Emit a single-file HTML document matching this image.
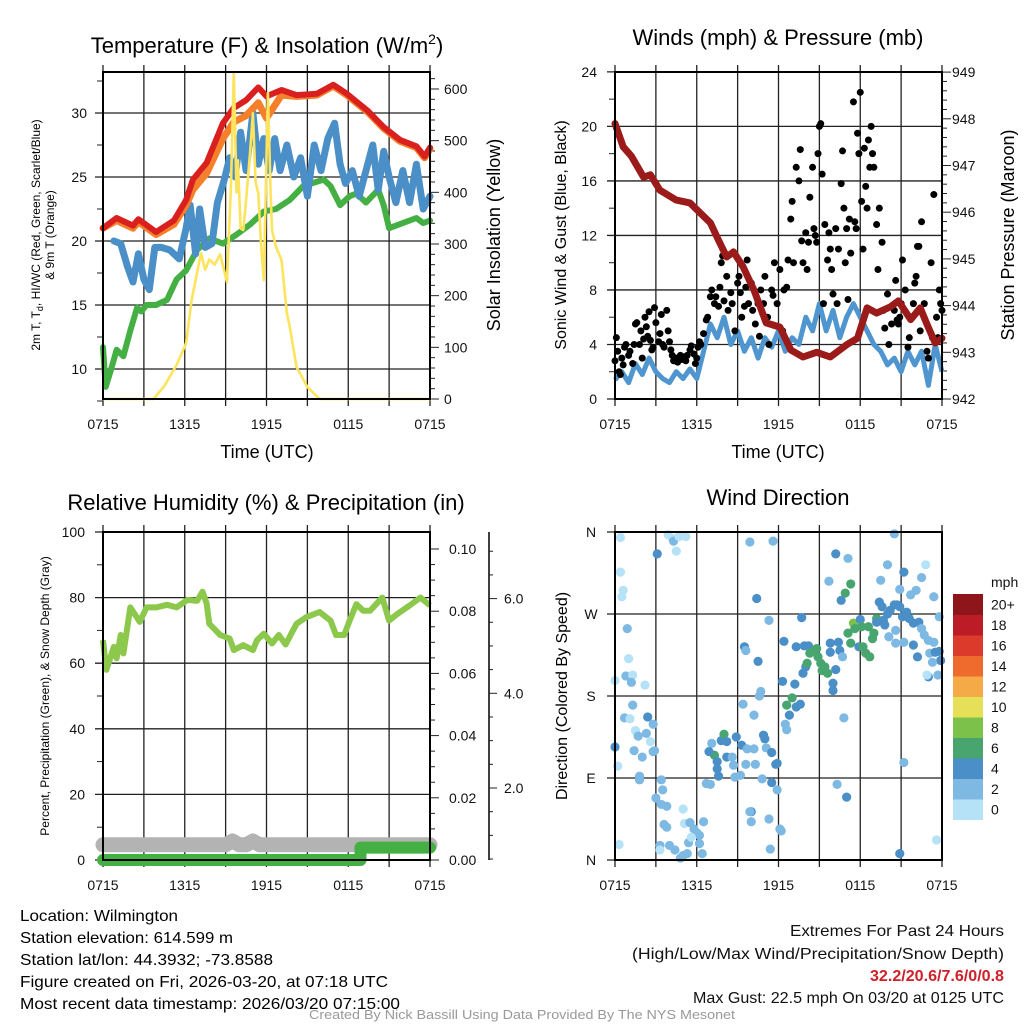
<!DOCTYPE html>
<html><head><meta charset="utf-8"><title>Station Meteogram</title>
<style>
html,body{margin:0;padding:0;background:#fff;}
svg{display:block;font-family:"Liberation Sans",Arial,sans-serif;}
.tk{font-size:14px;fill:#111;}
.nar{font-family:"Liberation Sans Narrow","Liberation Sans",sans-serif;}
</style></head>
<body>
<svg id="chart" width="1024" height="1024" viewBox="0 0 1024 1024" xmlns="http://www.w3.org/2000/svg"></svg>
<script>
// ===== Temperature panel data (hours after 0715 UTC) =====
const tempHours = [0,1.0,2.2,2.6,3.9,5.2,6.1,6.6,7.6,8.8,9.6,10.5,11.4,12.0,13.1,14.2,15.7,16.9,17.9,19.4,20.6,21.8,23.0,23.6,24];
const temp2m = [21.0,21.8,21.2,21.7,20.7,21.6,23.2,24.8,26.1,29.2,30.4,31.0,32.0,31.3,31.8,31.4,31.5,32.2,31.5,30.2,28.9,27.9,27.4,26.6,27.3];
const temp9m = [21.0,21.6,21.0,21.5,20.5,21.3,22.8,24.0,25.3,28.0,29.3,29.8,30.8,29.6,31.4,31.3,31.4,32.1,31.4,30.1,28.8,27.8,27.3,26.5,27.2];
const chillHours = [0.8,1.3,1.8,2.2,2.6,3.0,3.4,3.8,4.3,4.9,5.6,6.1,6.4,6.8,7.1,7.5,8.0,8.4,8.9,9.3,9.7,10.1,10.5,11.0,11.4,11.8,12.2,12.6,13.0,13.5,14.0,14.5,15.0,15.5,16.0,16.5,17.0,17.4,17.8,18.3,18.8,19.3,19.8,20.2,20.6,21.0,21.5,22.0,22.5,23.0,23.5,24];
const windChill = [20,19.8,18,16.8,19,17,16.2,19.5,19.5,19.3,18.6,21,22.8,19,22.5,19.5,19.8,23,24.8,26.5,25,28.5,25.5,30,26,28,25.5,28,25.5,27.5,25,26.5,23.5,27.5,25.5,28,29.2,26,24.5,25.5,23.5,25.5,27.5,24,27,25,23,25.5,23,26,22.5,23.5];
const dewHours = [0,0.2,0.6,1.0,1.5,2.0,2.5,2.8,3.2,3.9,4.7,5.4,6.1,6.9,7.8,8.8,9.8,10.8,11.8,12.7,13.7,14.7,16.2,16.7,17.4,18.1,18.6,19.3,20.2,20.6,21.0,22.0,23.0,23.5,24];
const dewPoint = [11.7,8.6,10,11.5,11.0,13,14.8,14.5,15,15,15.4,17,17.7,19.3,20.2,19.8,20.5,21.3,22.3,22.5,23.2,24.3,24.8,24.3,22.8,23.5,23.7,23.0,24.0,22.8,21.0,21.4,21.8,21.4,21.6];
const solarHours = [0,3.7,4.5,5.4,6.1,6.5,6.9,7.2,7.5,7.8,8.2,8.6,9.1,9.4,9.6,9.8,9.9,10.1,10.3,10.5,10.8,11.0,11.2,11.4,11.6,11.8,12.1,12.3,12.4,12.7,13.1,13.5,13.7,14.2,15.0,15.9,24];
const solarRad = [0,0,25,66,108,191,244,282,250,270,260,280,226,420,633,400,462,330,327,385,480,553,420,398,300,230,592,400,327,294,269,166,140,62,23,0,0];
const tempTicks = [10,15,20,25,30];
const solarTicks = [0,100,200,300,400,500,600];
const timeLabels = ["0715","1315","1915","0115","0715"];

// ===== Winds panel data =====
const windHours = [0,0.5,1,1.5,2,2.5,3,3.5,4,4.5,5,5.5,6,6.5,7,7.5,8,8.5,9,9.5,10,10.5,11,11.5,12,12.5,13,13.5,14,14.5,15,15.5,16,16.5,17,17.5,18,18.5,19,19.5,20,20.5,21,21.5,22,22.5,23,23.5,24];
const windSpeed = [1.4,2.0,1.2,2.6,1.8,3.0,2.0,1.5,1.2,2.0,1.5,2.2,1.5,3.5,5.5,4.5,6.0,4.0,5.0,3.5,4.5,3.0,4.5,3.8,5.0,3.5,4.5,4.0,6.0,5.0,7.0,5.0,6.5,4.5,6.0,7.0,6.0,5.0,4.0,3.5,2.5,3.0,2.0,3.5,2.5,3.5,1.0,4.0,2.0];
const gustHours = [0.0,0.1,0.2,0.3,0.4,0.5,0.6,0.7,0.8,1.0,1.1,1.3,1.4,1.5,1.6,1.8,1.9,2.0,2.1,2.2,2.3,2.4,2.5,2.6,2.7,2.8,2.9,3.0,3.2,3.3,3.4,3.5,3.6,3.8,3.9,4.0,4.1,4.2,4.3,4.4,4.5,4.6,4.7,4.8,4.9,5.0,5.2,5.3,5.5,5.6,5.8,5.9,6.0,6.1,6.2,6.3,6.5,6.7,6.8,7.0,7.1,7.3,7.4,7.6,7.7,7.8,7.9,8.0,8.2,8.3,8.5,8.6,8.8,9.0,9.1,9.2,9.3,9.5,9.6,9.7,9.8,10.0,10.1,10.3,10.5,10.6,10.7,10.9,11.0,11.2,11.3,11.5,11.6,11.7,11.9,12.1,12.3,12.4,12.6,12.7,12.9,13.0,13.1,13.3,13.5,13.6,13.7,13.8,14.0,14.1,14.2,14.3,14.5,14.6,14.7,14.8,14.9,15.0,15.1,15.2,15.3,15.4,15.6,15.7,15.8,15.9,16.0,16.2,16.3,16.4,16.6,16.7,16.8,16.9,17.0,17.1,17.2,17.3,17.5,17.6,17.7,17.8,17.9,18.0,18.1,18.2,18.3,18.4,18.5,18.6,18.7,18.8,18.9,19.0,19.2,19.3,19.4,19.6,19.7,19.8,20.0,20.1,20.3,20.5,20.6,20.7,20.8,20.9,21.0,21.1,21.3,21.5,21.6,21.8,21.9,22.0,22.1,22.2,22.3,22.4,22.5,22.7,22.9,23.0,23.2,23.3,23.4,23.6,23.7,23.8,23.9,24.0];
const gustSpeed = [2.8,4.5,3.5,2.0,1.8,3.0,2.5,3.8,4.0,3.2,3.5,2.6,4.0,5.5,5.6,4.0,5.0,3.0,4.4,6.0,5.3,4.6,6.4,4.3,3.6,3.8,6.7,5.6,4.2,4.8,6.2,4.0,3.8,6.5,5.0,4.2,3.6,3.2,2.8,3.0,3.0,2.7,3.0,3.2,2.9,3.1,2.8,3.2,3.6,3.9,3.3,2.6,3.0,3.8,4.2,4.0,4.8,5.8,6.0,7.5,8.0,7.0,7.5,6.8,8.2,10.0,10.5,7.2,9.0,6.5,7.8,7.0,5.0,8.5,9.0,7.8,6.0,6.8,8.2,10.2,7.0,8.5,6.5,5.5,7.0,4.6,8.0,7.0,9.0,6.0,4.0,8.0,7.6,10.0,7.0,9.5,5.0,8.0,8.2,10.2,13.2,14.5,10.0,17.0,16.0,18.3,11.6,10.0,12.2,9.5,11.5,14.8,17.0,12.5,12.0,11.5,18.0,20.0,20.2,16.5,7.0,12.8,10.2,12.2,11.0,9.5,7.7,12.5,7.0,11.0,15.8,18.2,14.0,10.0,12.5,7.3,13.2,10.7,21.8,13.0,12.5,19.5,18.0,22.5,14.5,11.0,18.4,15.6,14.0,19.0,17.0,20.0,18.0,17.0,12.8,9.5,14.0,11.5,6.5,5.2,7.7,4.0,5.5,6.5,8.7,5.8,5.5,6.0,7.0,10.2,8.0,3.8,4.5,6.0,7.0,8.5,9.0,11.2,11.2,5.0,13.0,7.0,3.5,3.0,10.0,4.5,15.0,6.0,4.5,8.0,7.0,6.5];
const presHours = [0,0.6,1.2,2.1,2.6,3.3,4.5,5.5,7.0,7.6,8.2,8.7,9.4,10.2,11.1,12.1,12.9,13.8,14.8,15.8,17.0,17.8,18.5,19.2,20.2,20.8,21.7,22.4,22.9,23.5,24];
const pressure = [947.9,947.4,947.2,946.75,946.8,946.47,946.26,946.2,945.77,945.4,945.04,945.15,944.83,944.33,943.63,943.54,943.05,942.9,943.0,942.9,943.16,943.3,943.95,943.84,943.97,944.1,943.7,943.95,943.6,943.2,943.3];
const windTicks = [0,4,8,12,16,20,24];
const presTicks = [942,943,944,945,946,947,948,949];

// ===== RH / precipitation panel data =====
const rhHours = [0,0.25,0.8,1.0,1.3,1.5,2.0,2.7,3.2,3.9,4.7,5.4,6.2,6.9,7.3,7.6,7.8,8.6,9.3,9.6,10.3,11.0,11.3,11.8,12.4,12.9,13.4,14.2,14.9,15.9,16.7,17.1,17.7,18.1,18.6,19.1,19.6,20.5,21.0,21.6,22.5,23.3,24];
const rhValues = [67,58,65,61.5,68.6,63,77,72.6,77,77,77.8,77,79.3,79,81.8,78.3,72,68.6,67.5,64,65.5,64,67,69,66,68.6,65.7,72,74,75.6,73,68.6,68.6,73,78,76,76,80,73,75,77.6,80,77.6];
const precipHours = [0,18.9,18.9,24];
const precipValues = [0,0,0.004,0.004];
const snowHours = [0,9,9.5,10,10.5,11,11.5,12,24];
const snowDepth = [0.8,0.8,0.88,0.8,0.8,0.88,0.8,0.8,0.8];
const rhTicks = [0,20,40,60,80,100];
const precipTicks = ["0.00","0.02","0.04","0.06","0.08","0.10"];
const snowTicks = ["2.0","4.0","6.0"];

// ===== Wind direction data =====
const dirHours = [0.4,0.4,0.6,0.5,0.9,1.0,0.8,1.3,1.2,0.0,2.2,1.3,0.7,1.1,2.4,2.8,1.5,2.3,1.7,2.6,1.4,2.0,2.8,2.9,0.0,0.2,1.8,1.8,0.3,3.1,3.9,4.2,4.3,4.5,4.7,5.2,3.4,3.5,3.0,3.4,3.8,3.6,3.8,3.3,3.3,4.0,4.4,4.8,5.0,5.3,5.0,5.1,5.5,5.4,5.8,6.0,6.2,6.5,6.2,6.4,5.6,6.7,7.0,7.1,7.3,7.5,7.5,7.6,6.9,7.8,8.0,8.2,8.2,8.6,8.7,8.8,8.9,9.3,9.2,9.7,10.2,10.3,9.6,10.9,11.0,11.1,10.8,11.5,11.8,11.9,11.5,11.9,9.4,10.2,10.7,10.6,10.0,9.9,10.0,11.3,11.4,12.1,12.2,9.9,11.6,10.4,11.3,9.5,9.6,10.5,12.4,12.3,13.2,13.7,12.6,13.0,12.8,13.3,13.6,12.5,12.6,13.3,13.9,14.2,14.0,13.8,14.1,14.3,14.6,14.8,14.9,15.1,15.2,15.4,15.6,15.8,15.8,16.2,16.0,16.0,15.7,16.2,17.1,17.3,16.9,16.6,16.4,16.5,16.7,17.1,17.3,17.5,17.6,18.0,17.9,18.1,18.2,18.4,18.6,18.7,18.9,19.0,19.2,19.2,19.4,19.6,19.7,19.8,20.0,20.2,20.5,20.6,20.7,20.9,21.1,19.5,20.0,20.5,20.9,21.2,21.4,21.6,21.9,22.3,22.5,22.7,23.0,23.1,23.4,23.5,23.8,23.9,22.2,23.3,23.0,22.9,23.7,23.8,23.4,22.8,22.5,22.1,21.7,20.6,21.2,20.1,21.9,21.2,20.9,23.6,16.3,17.0,16.8];
const dirDegrees = [354,316,296,289,254,221,202,203,195,197,192,170,156,155,157,149,142,139,136,130,120,113,119,120,124,103,92,88,17,336,357,353,350,339,355,355,88,77,68,61,59,39,36,16,11,16,11,2,5,7,56,40,41,19,34,30,27,42,18,7,25,84,83,128,115,108,100,92,119,131,138,130,113,113,104,91,135,126,93,122,122,105,105,137,133,123,89,118,105,106,85,77,171,159,185,180,53,53,42,45,12,34,32,349,350,287,263,234,230,218,240,196,193,266,170,178,159,168,171,149,143,234,235,235,212,205,216,227,230,232,223,216,208,212,205,228,238,209,194,186,306,336,331,303,293,285,239,230,223,249,238,260,254,264,234,256,234,227,256,223,243,249,265,261,283,278,263,258,270,274,280,252,280,278,267,307,324,358,297,316,272,265,260,261,254,247,241,227,239,228,229,219,223,217,201,203,203,267,289,324,310,296,291,238,239,245,236,107,7,22,83,69,156];
const dirSpeeds = [1,1,1,1,3,1,3,1,3,1,1,3,3,1,5,3,1,3,3,1,3,3,3,3,5,1,3,3,1,5,1,1,3,1,1,1,3,3,3,3,3,3,3,3,1,3,3,3,3,3,1,1,3,3,3,3,3,3,3,3,1,3,3,3,7,5,5,5,5,5,7,5,5,3,3,3,5,5,3,3,3,3,3,5,5,3,3,5,5,5,5,3,3,3,3,3,5,3,3,3,3,3,3,3,3,5,3,5,3,5,5,5,5,5,7,7,5,5,5,3,3,5,5,5,5,5,7,7,7,7,7,7,7,7,7,5,5,5,5,5,3,5,3,7,7,5,5,5,3,7,7,9,7,5,5,7,7,7,7,7,7,7,7,5,5,5,5,5,5,5,5,3,5,5,5,3,3,3,3,5,5,5,5,5,3,3,3,3,3,5,5,5,5,3,5,1,3,3,3,1,3,3,3,3,3,3,5,3,5,1,3,5,3];
const dirLabels = ["N","E","S","W","N"];
const speedBins = ["0","2","4","6","8","10","12","14","16","18","20+"];
const binColors = ["#b5e2f6","#7db9e3","#4a8fc7","#48a56f","#7cc24a","#e6e058","#f4aa47","#ee6a2d","#dc3a2a","#bb1c25","#8e1519"];

// ===== rendering =====
const NS = "http://www.w3.org/2000/svg";
const svg = document.getElementById("chart");
function mk(tag, attrs, parent) {
  const e = document.createElementNS(NS, tag);
  for (const k in attrs) e.setAttribute(k, attrs[k]);
  (parent || svg).appendChild(e);
  return e;
}
function txt(str, attrs, parent) { const e = mk("text", attrs, parent); e.textContent = str; return e; }
const PW = 327, HRS = 24;
function xAt(x0, t) { return x0 + t * PW / HRS; }
function pathFrom(xs, ys) { return xs.map((x, i) => (i ? "L" : "M") + x.toFixed(1) + " " + ys[i].toFixed(1)).join(""); }

function frame(x0, y0, y1, name, hGridYs) {
  const g = mk("g", {});
  
  
  for (let i = 0; i <= 8; i++) {
    const x = x0 + i * PW / 8;
    mk("line", {x1: x, y1: y0 - 7, x2: x, y2: y1 + 7, stroke: "#222", "stroke-width": 1.3}, g);
  }
  hGridYs.forEach(y => mk("line", {x1: x0 - 8, y1: y, x2: x0 + PW, y2: y, stroke: "#222", "stroke-width": 1.3}, g));
  const xl = mk("g", {});
  
  
  timeLabels.forEach((s, i) => txt(s, {x: x0 + i * PW / 4, y: y1 + 30, "text-anchor": "middle", class: "tk"}, xl));
}
function box(x0, y0, y1, name) {
  const r = mk("rect", {x: x0, y: y0, width: PW, height: y1 - y0, fill: "none", stroke: "#000", "stroke-width": 2});
  
  
}

// ---------- Panel 1 ----------
{
  const x0 = 103, y0 = 72, y1 = 399;
  const yT = v => 369 - (v - 10) * 12.8;
  const yS = v => 399 - v * 0.5167;
  frame(x0, y0, y1, "temperature", tempTicks.map(yT));
  for (let v = 7.5; v <= 32.5; v += 2.5) mk("line", {x1: x0 - 6, y1: yT(v), x2: x0, y2: yT(v), stroke: "#222"});
  for (let v = 0; v <= 620; v += 20) mk("line", {x1: x0 + PW, y1: yS(v), x2: x0 + PW + (v % 100 ? 5 : 9), y2: yS(v), stroke: "#222"});
  const yl = mk("g", {});  
  tempTicks.forEach(v => txt(String(v), {x: 87, y: yT(v) + 5, "text-anchor": "end", class: "tk"}, yl));
  const sl = mk("g", {});  
  solarTicks.forEach(v => txt(String(v), {x: 444, y: yS(v) + 5, class: "tk"}, sl));
  const series = [
    [dewHours, dewPoint, yT, "#44b043", 6, "dewpoint-line"],
    [chillHours, windChill, yT, "#4a8fc7", 7, "wind-chill-line"],
    [tempHours, temp9m, yT, "#f57f2a", 7, "temp-9m-line"],
    [tempHours, temp2m, yT, "#d9201f", 6, "temp-2m-line"],
    [solarHours, solarRad, yS, "#fde45c", 2.6, "solar-insolation-line"]
  ];
  series.forEach(s => {
    const p = mk("path", {d: pathFrom(s[0].map(t => xAt(x0, t)), s[1].map(s[2])), fill: "none", stroke: s[3], "stroke-width": s[4], "stroke-linejoin": "round", "stroke-linecap": "round"});
    
    
  });
  box(x0, y0, y1, "temperature");
  const t = txt("", {x: 267, y: 53, "text-anchor": "middle", "font-size": 22});
   
  t.innerHTML = 'Temperature (F) &amp; Insolation (W/m<tspan dy="-9" font-size="14">2</tspan><tspan dy="9">)</tspan>';
  const xt = txt("Time (UTC)", {x: 267, y: 458, "text-anchor": "middle", "font-size": 18});
   
  const lt = mk("text", {transform: "translate(40,235) rotate(-90)", "text-anchor": "middle", "font-size": 12});
   
  lt.innerHTML = '<tspan x="0" y="0">2m T, T<tspan font-size="9" dy="3">d</tspan><tspan dy="-3">, HI/WC (Red, Green, Scarlet/Blue)</tspan></tspan><tspan x="0" y="14">&amp; 9m T (Orange)</tspan>';
  const rt = txt("Solar Insolation (Yellow)", {transform: "translate(500,235) rotate(-90)", "text-anchor": "middle", "font-size": 18});
   
}

// ---------- Panel 2 ----------
{
  const x0 = 615, y0 = 72, y1 = 399;
  const yW = v => 399 - v * 13.63;
  const yP = p => 399 - (p - 942) * 46.7;
  frame(x0, y0, y1, "winds", windTicks.map(yW));
  for (let v = 2; v <= 22; v += 4) mk("line", {x1: x0 - 6, y1: yW(v), x2: x0, y2: yW(v), stroke: "#222"});
  for (let p = 942; p <= 949.01; p += 0.2) mk("line", {x1: x0 + PW, y1: yP(p), x2: x0 + PW + (Math.abs(p - Math.round(p)) < 0.01 ? 9 : 5), y2: yP(p), stroke: "#222"});
  const yl = mk("g", {});  
  windTicks.forEach(v => txt(String(v), {x: 597, y: yW(v) + 5, "text-anchor": "end", class: "tk"}, yl));
  const pl = mk("g", {});  
  presTicks.forEach(v => txt(String(v), {x: 952, y: yP(v) + 5, class: "tk"}, pl));
  const wl = mk("path", {d: pathFrom(windHours.map(t => xAt(x0, t)), windSpeed.map(yW)), fill: "none", stroke: "#4f95cf", "stroke-width": 5, "stroke-linejoin": "round"});
   
  const gg = mk("g", {});  
  gustHours.forEach((t, i) => {
    const c = mk("circle", {cx: xAt(x0, t), cy: yW(gustSpeed[i]), r: 3.5, fill: "#000"}, gg);
    
    
  });
  const pr = mk("path", {d: pathFrom(presHours.map(t => xAt(x0, t)), pressure.map(yP)), fill: "none", stroke: "#9b1b1b", "stroke-width": 7, "stroke-linejoin": "round", "stroke-linecap": "round"});
   
  box(x0, y0, y1, "winds");
  const t = txt("Winds (mph) & Pressure (mb)", {x: 778, y: 45, "text-anchor": "middle", "font-size": 22});
   
  const xt = txt("Time (UTC)", {x: 778, y: 458, "text-anchor": "middle", "font-size": 18});
   
  const lt = txt("Sonic Wind & Gust (Blue, Black)", {transform: "translate(566,235) rotate(-90)", "text-anchor": "middle", "font-size": 16});
   
  const rt = txt("Station Pressure (Maroon)", {transform: "translate(1014,235) rotate(-90)", "text-anchor": "middle", "font-size": 18});
   
}

// ---------- Panel 3 ----------
{
  const x0 = 103, y0 = 532, y1 = 860;
  const yR = v => 860 - v * 3.28;
  const yPr = v => 860 - v * 3110;
  const ySn = v => 882.7 - v * 47.35;
  frame(x0, y0, y1, "humidity", rhTicks.map(yR));
  for (let v = 10; v <= 90; v += 20) mk("line", {x1: x0 - 6, y1: yR(v), x2: x0, y2: yR(v), stroke: "#222"});
  for (let v = 0; v <= 0.1001; v += 0.005) mk("line", {x1: x0 + PW, y1: yPr(v), x2: x0 + PW + (Math.round(v * 1000) % 20 ? 5 : 9), y2: yPr(v), stroke: "#222"});
  const yl = mk("g", {});  
  rhTicks.forEach(v => txt(String(v), {x: 85, y: yR(v) + 5, "text-anchor": "end", class: "tk"}, yl));
  const pl = mk("g", {});  
  precipTicks.forEach(v => txt(v, {x: 449, y: yPr(parseFloat(v)) + 5, class: "tk"}, pl));
  const sa = mk("line", {x1: 489, y1: 532, x2: 489, y2: 860, stroke: "#000", "stroke-width": 1.5});
   
  for (let v = 0.5; v <= 7.01; v += 0.5) { const y = ySn(v); if (y >= 532 && y <= 860) mk("line", {x1: 489, y1: y, x2: 489 + (v % 2 ? 4 : 8), y2: y, stroke: "#222"}); }
  const sl = mk("g", {});  
  snowTicks.forEach(v => txt(v, {x: 504, y: ySn(parseFloat(v)) + 5, class: "tk"}, sl));
  const rh = mk("path", {d: pathFrom(rhHours.map(t => xAt(x0, t)), rhValues.map(yR)), fill: "none", stroke: "#8cc84b", "stroke-width": 6, "stroke-linejoin": "round"});
   
  const sn = mk("path", {d: pathFrom(snowHours.map(t => xAt(x0, t)), snowDepth.map(ySn)), fill: "none", stroke: "#b3b3b3", "stroke-width": 15, "stroke-linejoin": "round", "stroke-linecap": "round"});
   
  const pc = mk("path", {d: pathFrom(precipHours.map(t => xAt(x0, t)), precipValues.map(yPr)), fill: "none", stroke: "#44b043", "stroke-width": 12, "stroke-linejoin": "round", "stroke-linecap": "round"});
   
  box(x0, y0, y1, "humidity");
  const t = txt("Relative Humidity (%) & Precipitation (in)", {x: 266, y: 510, "text-anchor": "middle", "font-size": 22});
   
  const lt = txt("Percent, Precipitation (Green), & Snow Depth (Gray)", {transform: "translate(49,696) rotate(-90)", "text-anchor": "middle", "font-size": 12});
   
}

// ---------- Panel 4 ----------
{
  const x0 = 615, y0 = 532, y1 = 860;
  const yD = d => 860 - d * 0.9111;
  frame(x0, y0, y1, "direction", [0, 90, 180, 270, 360].map(yD));
  const yl = mk("g", {});  
  dirLabels.forEach((s, i) => txt(s, {x: 591, y: yD(i * 90) + 5, "text-anchor": "middle", class: "tk"}, yl));
  const colorOf = s => binColors[Math.min(10, Math.floor(s / 2))];
  const dg = mk("g", {});  
  dirHours.forEach((t, i) => {
    const c = mk("circle", {cx: xAt(x0, t), cy: yD(dirDegrees[i]), r: 4.6, fill: colorOf(dirSpeeds[i])}, dg);
    
    
  });
  box(x0, y0, y1, "direction");
  const t = txt("Wind Direction", {x: 778, y: 505, "text-anchor": "middle", "font-size": 22});
   
  const lt = txt("Direction (Colored By Speed)", {transform: "translate(567,696) rotate(-90)", "text-anchor": "middle", "font-size": 16});
   
  const cb = mk("g", {});  
  const bh = 20.5, top = 594;
  speedBins.forEach((lab, i) => {
    const y = top + (10 - i) * bh;
    const r = mk("rect", {x: 953, y: y, width: 30, height: bh + 0.5, fill: binColors[i]}, cb);
    
    
    txt(lab, {x: 991, y: y + bh / 2 + 5, class: "tk"}, cb);
  });
  txt("mph", {x: 991, y: 587, class: "tk"}, cb);
}

// ---------- Footer text ----------
{
  const info = [["Location: Wilmington",921,158],["Station elevation: 614.599 m",943,213],["Station lat/lon: 44.3932; -73.8588",965,253],["Figure created on Fri, 2026-03-20, at 07:18 UTC",987,368],["Most recent data timestamp: 2026/03/20 07:15:00",1009,380]];
  const g = mk("g", {});  
  info.forEach(a => txt(a[0], {x: 20, y: a[1], "font-size": 16, class: "nar", textLength: a[2], lengthAdjust: "spacingAndGlyphs"}, g));
  const ex = [["Extremes For Past 24 Hours",936,214,"#111","normal"],["(High/Low/Max Wind/Precipitation/Snow Depth)",959,372,"#111","normal"],["32.2/20.6/7.6/0/0.8",981,134,"#d0202a","bold"],["Max Gust: 22.5 mph On 03/20 at 0125 UTC",1003,311,"#111","normal"]];
  const g2 = mk("g", {});  
  ex.forEach(a => txt(a[0], {x: 1004 - a[2], y: a[1], "font-size": 16, class: "nar", fill: a[3], "font-weight": a[4], textLength: a[2], lengthAdjust: "spacingAndGlyphs"}, g2));
  const cr = txt("Created By Nick Bassill Using Data Provided By The NYS Mesonet", {x: 309, y: 1019, "font-size": 13, class: "nar", fill: "#999", textLength: 426, lengthAdjust: "spacingAndGlyphs"});
   
}
</script>
</body></html>
